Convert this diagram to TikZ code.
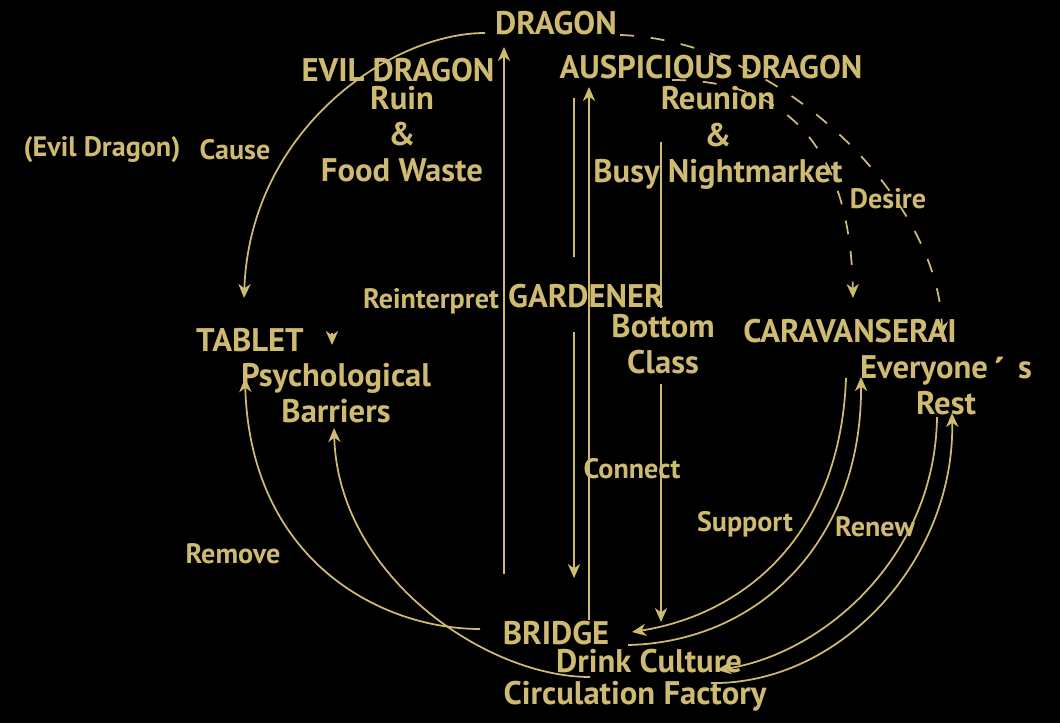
\documentclass[tikz,border=0pt]{standalone}
\usepackage{fontspec}
\setmainfont{PT Sans}
\usetikzlibrary{arrows.meta}
\definecolor{gold}{RGB}{206,186,112}
\tikzset{
  big/.style={text=gold, font=\bfseries\fontsize{18.6}{20}\selectfont, inner sep=0pt},
  sub/.style={text=gold, font=\bfseries\fontsize{18.6}{20.6}\selectfont, align=center, inner sep=0pt},
  lbl/.style={text=gold, font=\bfseries\fontsize{16}{18}\selectfont, inner sep=0pt},
  link/.style={draw=gold, line width=1pt},
  flow/.style={link, -{Stealth[length=8pt,width=7pt,inset=2.5pt]}},
  wish/.style={flow, dash pattern=on 8pt off 9.5pt},
}
\begin{document}
\begin{tikzpicture}[x=0.02cm,y=-0.02cm]
    \fill[black] (0,0) rectangle (1060,723);
    \node[big] (dragon) at (556,23) {DRAGON};
    \node[big] (evil) at (398,70) {EVIL DRAGON};
    \node[big] (ausp) at (711,67) {AUSPICIOUS DRAGON};
    \node[big] (gardener) at (586,296) {GARDENER};
    \node[big] (tablet) at (250,340) {TABLET};
    \node[big] (carav) at (850,331) {CARAVANSERAI};
    \node[big] (bridge) at (556,633) {BRIDGE};
    \node[sub] (ruin) at (402,134) {Ruin\\\&\\Food Waste};
    \node[sub] (reunion) at (718,138) {Reunion\\\&\\Busy Nightmarket};
    \node[sub] (bottom) at (663,344) {Bottom\\Class};
    \node[sub] (everyone) at (946,385) {Everyone\hspace{3pt}\raisebox{-5pt}[0pt][0pt]{\scalebox{1.25}{´}}\hspace{7pt}s\\Rest};
    \node[sub] (psych) at (336,393) {Psychological\\Barriers};
    \node[sub] (drink) at (649,661) {Drink Culture};
    \node[sub] (factory) at (635,696) {Circulation Factory};
    \node[lbl] (evilname) at (102,150) {(Evil Dragon)};
    \node[lbl] (cause) at (235,150) {Cause};
    \node[lbl] (desire) at (888,199) {Desire};
    \node[lbl] (reinterp) at (431,301) {Reinterpret};
    \node[lbl] (connect) at (632,469) {Connect};
    \node[lbl] (support) at (745,524) {Support};
    \node[lbl] (renew) at (875,527) {Renew};
    \node[lbl] (remove) at (233,554) {Remove};

    \coordinate (bridgeA) at (504,574);
    \coordinate (dragonIn) at (504,47);
    \coordinate (bridgeB) at (589,620);
    \coordinate (auspIn) at (589,87);
    \coordinate (auspOut) at (574,98);
    \coordinate (gardenerN) at (574,257);
    \coordinate (gardenerS) at (574,332);
    \coordinate (bridgeIn) at (574,578);
    \coordinate (reunionOut) at (661,142);
    \coordinate (bottomN) at (661,308);
    \coordinate (bottomS) at (661,384);
    \coordinate (drinkIn) at (661,622);
    \coordinate (dragonL) at (485,33);
    \coordinate (tabletN) at (244,298);
    \coordinate (bridgeL) at (480,629);
    \coordinate (tabletS) at (245,378);
    \coordinate (drinkL) at (590,677);
    \coordinate (psychS) at (334,428);
    \coordinate (caravS) at (846,378);
    \coordinate (bridgeR) at (632,632);
    \coordinate (bridgeOut) at (628,645);
    \coordinate (everyoneS) at (861,377);
    \coordinate (restS) at (937,417);
    \coordinate (drinkR) at (717,670);
    \coordinate (factoryR) at (711,683);
    \coordinate (restIn) at (952,413);
    \coordinate (dragonR) at (620,35);
    \coordinate (caravN) at (942,336);
    \coordinate (auspR) at (672,80);
    \coordinate (caravIn) at (853,298);
    \coordinate (stray) at (332,333);

    \draw[flow] (bridgeA) -- (dragonIn);
    \draw[flow] (bridgeB) -- (auspIn);
    \draw[link] (auspOut) -- (gardenerN);
    \draw[flow] (gardenerS) -- (bridgeIn);
    \draw[link] (reunionOut) -- (bottomN);
    \draw[flow] (bottomS) -- (drinkIn);
    \draw[flow] (dragonL) .. controls (390,33) and (250,130) .. (tabletN);
    \draw[flow] (bridgeL) .. controls (380,629) and (250,560) .. (tabletS);
    \draw[flow] (drinkL) .. controls (485,677) and (338,575) .. (psychS);
    \draw[flow] (caravS) .. controls (840,540) and (740,615) .. (bridgeR);
    \draw[flow] (bridgeOut) .. controls (760,642) and (862,540) .. (everyoneS);
    \draw[flow] (restS) .. controls (935,560) and (820,655) .. (drinkR);
    \draw[flow] (factoryR) .. controls (840,685) and (955,560) .. (restIn);
    \draw[wish] (dragonR) .. controls (780,40) and (940,200) .. (caravN);
    \draw[wish] (auspR) .. controls (780,80) and (850,140) .. (caravIn);
    \draw[flow] (stray) -- ++(0,12);
\end{tikzpicture}
\end{document}
